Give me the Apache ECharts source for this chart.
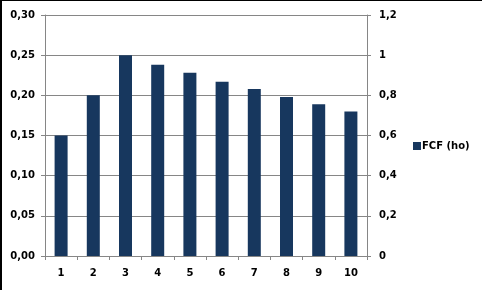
<!DOCTYPE html>
<html>
<head>
<meta charset="utf-8">
<script src="https://cdn.jsdelivr.net/npm/echarts@6/dist/echarts.min.js"></script>
<style>
html,body{margin:0;padding:0;background:#fff;}
#frame{position:absolute;left:0;top:0;width:482px;height:290px;box-sizing:border-box;border-top:1px solid #000;border-left:2px solid #000;}
#chart{position:absolute;left:0;top:0;width:482px;height:290px;}
</style>
</head>
<body>
<div id="chart"></div>
<div id="frame"></div>
<script>
const categories = ['1','2','3','4','5','6','7','8','9','10'];
const seriesName = 'FCF (ho)';
const fcfValues = [0.150, 0.200, 0.250, 0.238, 0.228, 0.217, 0.208, 0.198, 0.189, 0.180];
const leftAxis = {min: 0, max: 0.30, interval: 0.05};
const rightAxis = {min: 0, max: 1.2, interval: 0.2};

const axisColor = '#868686';
const labelFont = {color: '#000', fontFamily: 'DejaVu Sans', fontWeight: 'bold', fontSize: 10};

const chart = echarts.init(document.getElementById('chart'), null, {renderer: 'canvas'});
chart.setOption({
  animation: false,
  backgroundColor: '#fff',
  grid: {left: 45, right: 115, top: 15, bottom: 34, containLabel: false},
  legend: {
    data: [seriesName],
    left: 408, top: 136,
    itemWidth: 8, itemHeight: 8, itemGap: 0,
    icon: 'rect',
    textStyle: Object.assign({}, labelFont, {fontSize: 10, padding: [0, 0, 0, -4]})
  },
  xAxis: {
    type: 'category',
    data: categories,
    boundaryGap: true,
    axisLine: {show: true, lineStyle: {color: axisColor, width: 1}},
    axisTick: {show: true, alignWithLabel: false, length: 4, lineStyle: {color: axisColor}},
    axisLabel: Object.assign({}, labelFont, {margin: 12}),
    splitLine: {show: false}
  },
  yAxis: [
    {
      type: 'value', min: leftAxis.min, max: leftAxis.max, interval: leftAxis.interval,
      axisLine: {show: true, lineStyle: {color: axisColor}},
      axisTick: {show: true, length: 4, lineStyle: {color: axisColor}},
      axisLabel: Object.assign({}, labelFont, {margin: 10, formatter: v => v.toFixed(2).replace('.', ',')}),
      splitLine: {show: true, lineStyle: {color: axisColor, width: 1}}
    },
    {
      type: 'value', min: rightAxis.min, max: rightAxis.max, interval: rightAxis.interval,
      position: 'right',
      axisLine: {show: true, lineStyle: {color: axisColor}},
      axisTick: {show: true, length: 4, lineStyle: {color: axisColor}},
      axisLabel: Object.assign({}, labelFont, {margin: 12, formatter: v => String(Math.round(v * 10) / 10).replace('.', ',')}),
      splitLine: {show: false}
    }
  ],
  series: [{
    name: seriesName,
    type: 'bar',
    yAxisIndex: 0,
    data: fcfValues,
    barWidth: 13,
    itemStyle: {color: '#17375E'}
  }]
});
</script>
</body>
</html>
